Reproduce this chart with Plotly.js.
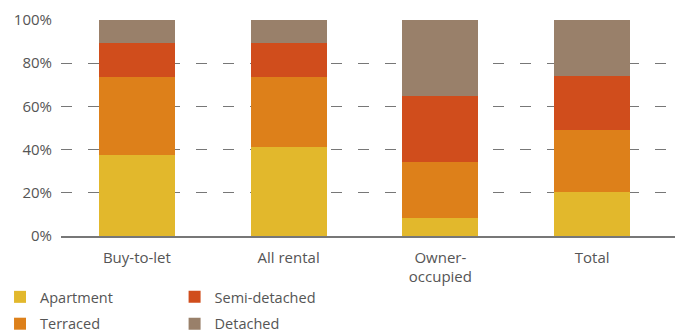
<!DOCTYPE html>
<html>
<head>
<meta charset="utf-8">
<script src="https://cdn.plot.ly/plotly-3.0.1.min.js"></script>
<style>
html,body{margin:0;padding:0;background:#fff;overflow:hidden;}
#chart{width:675px;height:360px;}
</style>
</head>
<body>
<div id="chart"></div>
<script>
const categories = ["Buy-to-let", "All rental", "Owner-<br>occupied", "Total"];
const apartment = [37.5, 41.2, 8.3, 20.5];
const terraced = [36.1, 32.4, 26.0, 28.5];
const semiDetached = [15.9, 15.9, 30.7, 25.2];
const detached = [10.5, 10.5, 35.0, 25.8];
const yTicks = [0, 20, 40, 60, 80, 100];
const yTickLabels = ["0%", "20%", "40%", "60%", "80%", "100%"];

const colors = {
  Apartment: "#E2B82C",
  Terraced: "#DD801A",
  "Semi-detached": "#D04D1C",
  Detached: "#99806A"
};

function mk(name, vals, legend, rank) {
  return {
    type: "bar", name: name, x: categories, y: vals,
    marker: {color: colors[name], line: {width: 0}},
    legend: legend, legendrank: rank, legendgroup: name, hoverinfo: "skip"
  };
}

const data = [
  mk("Apartment", apartment, "legend", 1),
  mk("Terraced", terraced, "legend", 2),
  mk("Semi-detached", semiDetached, "legend2", 1),
  mk("Detached", detached, "legend2", 2)
];

const font = {family: "Open Sans, Lato, sans-serif", size: 15, color: "#555"};
const legendFont = {family: "Open Sans, Lato, sans-serif", size: 14.5, color: "#555"};

const layout = {
  width: 675, height: 360,
  margin: {l: 61, r: 0, t: 20, b: 124},
  paper_bgcolor: "#fff", plot_bgcolor: "#fff",
  barmode: "stack", bargap: 0.5,
  font: font,
  showlegend: true,
  xaxis: {
    type: "category", range: [-0.5, 3.546],
    showgrid: false, showline: true, linecolor: "#777", linewidth: 1.5,
    ticks: "", tickfont: font, ticklabelstandoff: 7, fixedrange: true
  },
  yaxis: {
    range: [0, 100], tickvals: yTicks, ticktext: yTickLabels,
    showgrid: true, gridcolor: "#777", gridwidth: 1.3, griddash: "11px,16px",
    zeroline: false, showline: false, ticks: "", tickfont: font,
    ticklabelstandoff: 8, fixedrange: true
  },
  legend: {
    orientation: "v", x: -0.0993, xanchor: "left", y: -0.208, yanchor: "top",
    font: legendFont, traceorder: "grouped", tracegroupgap: 5, itemclick: false, bgcolor: "rgba(0,0,0,0)"
  },
  legend2: {
    orientation: "v", x: 0.185, xanchor: "left", y: -0.208, yanchor: "top",
    font: legendFont, traceorder: "grouped", tracegroupgap: 5, itemclick: false, bgcolor: "rgba(0,0,0,0)"
  }
};

Plotly.newPlot("chart", data, layout, {displayModeBar: false, staticPlot: true});
</script>
</body>
</html>
